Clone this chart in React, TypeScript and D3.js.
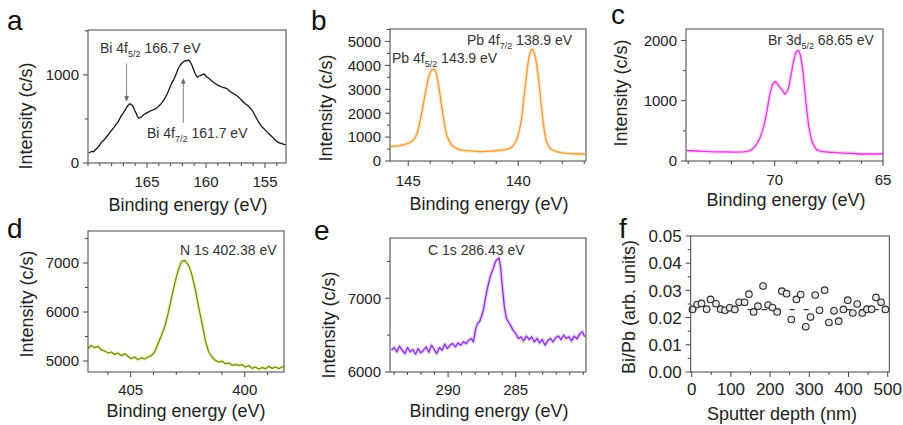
import * as d3 from "d3";

const FONT = "'Liberation Sans', Arial, Helvetica, sans-serif";

// ---- spectra, [binding energy (eV), intensity (c/s)] ----
const biSpectrum: [number, number][] = [
  [169.94, 113], [169.79, 125], [169.66, 132], [169.52, 128], [169.37, 151], [169.22, 170], [169.08, 189],
  [168.94, 220], [168.79, 245], [168.64, 262], [168.51, 283], [168.3, 318], [168.08, 359], [167.87, 392],
  [167.64, 434], [167.44, 470], [167.22, 528], [167.01, 566], [166.84, 604], [166.73, 632], [166.64, 649],
  [166.53, 668], [166.41, 672], [166.32, 660], [166.21, 649], [166.07, 605], [165.92, 566], [165.81, 530],
  [165.69, 509], [165.58, 515], [165.5, 521], [165.29, 548], [165.06, 566], [164.85, 580], [164.63, 596],
  [164.43, 605], [164.2, 623], [163.97, 650], [163.77, 679], [163.62, 705], [163.48, 736], [163.34, 770],
  [163.2, 811], [163.05, 860], [162.91, 906], [162.76, 940], [162.62, 981], [162.47, 1030], [162.34, 1076],
  [162.19, 1110], [162.05, 1132], [161.9, 1150], [161.76, 1162], [161.61, 1160], [161.47, 1170], [161.36, 1150],
  [161.27, 1132], [161.15, 1095], [161.04, 1057], [160.9, 1010], [160.75, 974], [160.63, 985], [160.52, 989],
  [160.35, 1000], [160.17, 1011], [160.03, 990], [159.89, 974], [159.66, 950], [159.46, 925], [159.26, 905],
  [159.03, 887], [158.8, 870], [158.6, 860], [158.39, 852], [158.16, 838], [157.96, 812], [157.74, 793],
  [157.53, 778], [157.3, 755], [157.07, 725], [156.88, 698], [156.67, 672], [156.44, 649], [156.21, 618],
  [156.02, 585], [155.87, 545], [155.73, 509], [155.52, 460], [155.29, 415], [155.06, 385], [154.87, 359],
  [154.66, 330], [154.43, 302], [154.2, 270], [154.0, 245], [153.8, 228], [153.57, 219], [153.4, 212],
  [153.24, 208],
];

const pbSpectrum: [number, number][] = [
  [145.83, 600], [145.6, 620], [145.38, 643], [145.2, 680], [145.08, 712], [144.95, 760], [144.85, 810],
  [144.7, 950], [144.6, 1150], [144.55, 1299], [144.47, 1620], [144.39, 1998], [144.31, 2400], [144.24, 2766],
  [144.16, 3120], [144.09, 3465], [144.0, 3700], [143.94, 3814], [143.83, 3842], [143.77, 3780],
  [143.71, 3604], [143.65, 3320], [143.59, 2976], [143.53, 2620], [143.48, 2277], [143.42, 1920],
  [143.36, 1579], [143.3, 1280], [143.23, 1020], [143.13, 820], [143.03, 671], [142.88, 560], [142.73, 489],
  [142.55, 455], [142.35, 433], [142.05, 410], [141.74, 391], [141.45, 405], [141.14, 419], [140.9, 440],
  [140.68, 461], [140.5, 495], [140.38, 531], [140.25, 620], [140.15, 740], [140.07, 900], [140.0, 1090],
  [139.94, 1320], [139.88, 1579], [139.82, 1980], [139.77, 2417], [139.71, 2900], [139.65, 3395],
  [139.59, 3850], [139.53, 4233], [139.47, 4500], [139.41, 4652], [139.36, 4680], [139.32, 4624],
  [139.26, 4480], [139.21, 4303], [139.15, 3950], [139.09, 3534], [139.03, 3050], [138.98, 2557],
  [138.92, 2050], [138.86, 1579], [138.8, 1180], [138.74, 880], [138.65, 680], [138.56, 531], [138.4, 440],
  [138.26, 391], [138.05, 350], [137.8, 321], [137.55, 305], [137.35, 293], [137.15, 295], [136.97, 293],
];

const brSpectrum: [number, number][] = [
  [74.08, 172], [73.85, 170], [73.62, 166], [73.3, 160], [73.0, 155], [72.6, 152], [72.23, 150],
  [71.85, 148], [71.46, 150], [71.3, 158], [71.15, 172], [71.03, 200], [70.92, 238], [70.8, 300],
  [70.69, 377], [70.6, 470], [70.51, 571], [70.43, 700], [70.35, 848], [70.29, 975], [70.23, 1097],
  [70.17, 1190], [70.11, 1263], [70.04, 1300], [69.98, 1319], [69.91, 1300], [69.85, 1263], [69.77, 1228],
  [69.69, 1191], [69.61, 1150], [69.54, 1108], [69.46, 1140], [69.38, 1191], [69.32, 1290], [69.26, 1402],
  [69.2, 1520], [69.15, 1623], [69.09, 1720], [69.03, 1801], [68.97, 1825], [68.92, 1834], [68.87, 1810],
  [68.82, 1762], [68.75, 1620], [68.69, 1457], [68.63, 1240], [68.57, 1014], [68.5, 780], [68.43, 571],
  [68.35, 430], [68.28, 321], [68.18, 245], [68.08, 194], [67.9, 165], [67.77, 155], [67.45, 145],
  [67.15, 139], [66.85, 132], [66.54, 127], [66.2, 120], [65.92, 116], [65.6, 118], [65.31, 116],
  [65.0, 122],
];

const nSpectrum: [number, number][] = [
  [406.87, 5252], [406.73, 5320], [406.58, 5272], [406.43, 5299], [406.29, 5231], [406.14, 5204],
  [405.99, 5163], [405.85, 5184], [405.7, 5136], [405.56, 5163], [405.41, 5109], [405.26, 5150],
  [405.12, 5095], [404.97, 5048], [404.82, 5082], [404.68, 5027], [404.53, 5068], [404.39, 5041],
  [404.24, 5082], [404.09, 5109], [403.95, 5184], [403.8, 5354], [403.65, 5524], [403.51, 5694],
  [403.36, 5966], [403.22, 6272], [403.07, 6578], [402.92, 6850], [402.78, 7020], [402.66, 7054],
  [402.56, 7020], [402.44, 6932], [402.31, 6748], [402.16, 6442], [402.02, 6102], [401.87, 5762],
  [401.73, 5422], [401.58, 5184], [401.43, 5082], [401.29, 5014], [401.14, 4980], [400.99, 5000],
  [400.85, 4946], [400.7, 4959], [400.56, 4912], [400.41, 4932], [400.26, 4905], [400.12, 4925],
  [399.97, 4878], [399.82, 4905], [399.68, 4850], [399.53, 4878], [399.39, 4837], [399.24, 4864],
  [399.09, 4844], [398.95, 4891], [398.8, 4850], [398.65, 4878], [398.51, 4844], [398.36, 4878],
  [398.27, 4891],
];

const cSpectrum: [number, number][] = [
  [294.19, 6296], [293.99, 6332], [293.79, 6273], [293.6, 6350], [293.4, 6296], [293.2, 6250],
  [293.0, 6332], [292.81, 6273], [292.61, 6305], [292.41, 6241], [292.22, 6318], [292.02, 6259],
  [291.82, 6296], [291.63, 6341], [291.43, 6268], [291.23, 6364], [291.03, 6305], [290.84, 6250],
  [290.64, 6332], [290.44, 6296], [290.25, 6377], [290.05, 6318], [289.85, 6364], [289.66, 6386],
  [289.46, 6341], [289.26, 6395], [289.06, 6364], [288.87, 6409], [288.67, 6386], [288.47, 6432],
  [288.28, 6455], [288.13, 6409], [287.98, 6568], [287.83, 6659], [287.68, 6682], [287.54, 6750],
  [287.39, 6841], [287.24, 7000], [287.09, 7136], [286.95, 7250], [286.8, 7341], [286.65, 7409],
  [286.5, 7500], [286.35, 7532], [286.23, 7545], [286.11, 7409], [285.99, 7159], [285.84, 6886],
  [285.69, 6727], [285.54, 6682], [285.39, 6636], [285.2, 6568], [285.0, 6523], [284.8, 6455],
  [284.61, 6477], [284.41, 6423], [284.21, 6486], [284.01, 6441], [283.82, 6477], [283.62, 6409],
  [283.42, 6455], [283.23, 6395], [283.03, 6441], [282.83, 6364], [282.64, 6423], [282.44, 6455],
  [282.24, 6409], [282.04, 6468], [281.85, 6486], [281.65, 6441], [281.45, 6500], [281.26, 6455],
  [281.06, 6477], [280.86, 6423], [280.67, 6486], [280.47, 6450], [280.27, 6514], [280.07, 6545],
  [279.9, 6477],
];

// ---- depth profile ----
const sputterDepth = [
  2, 14, 25, 38, 48, 62, 74, 85, 97, 110, 121, 135, 146, 158, 169, 182, 195, 206, 218, 230, 242,
  254, 267, 278, 291, 303, 315, 326, 339, 350, 363, 375, 387, 398, 411, 422, 435, 447, 459, 470, 483, 494,
];
const biPbRatio = [
  0.023, 0.0248, 0.0252, 0.0231, 0.0267, 0.0251, 0.0231, 0.0227, 0.0236, 0.023, 0.0256, 0.0256, 0.0286,
  0.0221, 0.0242, 0.0316, 0.0246, 0.0237, 0.0221, 0.0297, 0.0288, 0.0193, 0.0267, 0.0285, 0.0166, 0.0202,
  0.0283, 0.0227, 0.0301, 0.0182, 0.0225, 0.0187, 0.023, 0.0264, 0.0217, 0.025, 0.0217, 0.0231, 0.0231,
  0.0274, 0.0256, 0.023,
];
const biPbMean = 0.0229;

// ---- ticks ----
const aXTicks = [165, 160, 155];
const aYTicks = [0, 1000];
const bXTicks = [145, 140];
const bYTicks = [0, 1000, 2000, 3000, 4000, 5000];
const cXTicks = [70, 65];
const cYTicks = [0, 1000, 2000];
const dXTicks = [405, 400];
const dYTicks = [5000, 6000, 7000];
const eXTicks = [290, 285];
const eYTicks = [6000, 7000];
const fXTicks = [0, 100, 200, 300, 400, 500];
const fYTicks = [0, 0.01, 0.02, 0.03, 0.04, 0.05];

type Note = { x: number; y: number; main: string; sub?: string; tail?: string };
type Arrow = { x: number; y0: number; y1: number };

type PanelProps = {
  letter: string;
  letterPos: [number, number];
  box: [number, number, number, number]; // left, top, right, bottom
  xDomain: [number, number];
  yDomain: [number, number];
  xTicks: number[];
  yTicks: number[];
  xMinorStep: number;
  yMinorStep: number;
  yFormat?: (v: number) => string;
  tickFont: number;
  yLabel: string;
  yLabelPos: [number, number];
  xLabel: string;
  xLabelPos: [number, number];
  xTickBaseline: number;
  data?: [number, number][];
  color?: string;
  glow?: string;
  notes?: Note[];
  arrows?: Arrow[];
  children?: (x: d3.ScaleLinear<number, number>, y: d3.ScaleLinear<number, number>) => any;
};

function Panel(p: PanelProps) {
  const [l, t, r, b] = p.box;
  const x = d3.scaleLinear().domain(p.xDomain).range([l, r]);
  const y = d3.scaleLinear().domain(p.yDomain).range([b, t]);
  const line = d3.line<[number, number]>().x((d) => x(d[0])).y((d) => y(d[1]));

  const xlo = Math.min(...p.xDomain), xhi = Math.max(...p.xDomain);
  const ylo = Math.min(...p.yDomain), yhi = Math.max(...p.yDomain);
  const xMinor = d3.range(Math.ceil(xlo / p.xMinorStep) * p.xMinorStep, xhi + 1e-9, p.xMinorStep)
    .filter((v) => !p.xTicks.some((m) => Math.abs(m - v) < 1e-9));
  const yMinor = d3.range(Math.ceil(ylo / p.yMinorStep) * p.yMinorStep, yhi + 1e-9, p.yMinorStep)
    .filter((v) => !p.yTicks.some((m) => Math.abs(m - v) < 1e-9));
  const fmt = p.yFormat ?? ((v: number) => String(v));
  const axisColor = "#444";

  return (
    <g fontFamily={FONT}>
      <text x={p.letterPos[0]} y={p.letterPos[1]} fontSize={28} fill="#111">{p.letter}</text>

      {p.data && p.glow && (
        <path d={line(p.data) ?? ""} fill="none" stroke={p.glow} strokeWidth={4} strokeOpacity={0.45} strokeLinejoin="round" />
      )}
      {p.data && (
        <path d={line(p.data) ?? ""} fill="none" stroke={p.color} strokeWidth={1.3} strokeLinejoin="round" />
      )}
      {p.children && p.children(x, y)}

      <rect x={l} y={t} width={r - l} height={b - t} fill="none" stroke={axisColor} strokeWidth={1} />

      {p.xTicks.map((v) => (
        <g key={"xt" + v}>
          <line x1={x(v)} x2={x(v)} y1={b} y2={b + 5} stroke={axisColor} />
          <text x={x(v)} y={p.xTickBaseline} fontSize={p.tickFont} textAnchor="middle" fill="#222">{v}</text>
        </g>
      ))}
      {xMinor.map((v) => (
        <line key={"xm" + v} x1={x(v)} x2={x(v)} y1={b} y2={b + 3} stroke={axisColor} />
      ))}
      {p.yTicks.map((v) => (
        <g key={"yt" + v}>
          <line x1={l - 5} x2={l} y1={y(v)} y2={y(v)} stroke={axisColor} />
          <text x={l - 9} y={y(v)} dy="0.36em" fontSize={p.tickFont} textAnchor="end" fill="#222">{fmt(v)}</text>
        </g>
      ))}
      {yMinor.map((v) => (
        <line key={"ym" + v} x1={l - 3} x2={l} y1={y(v)} y2={y(v)} stroke={axisColor} />
      ))}

      <text x={p.xLabelPos[0]} y={p.xLabelPos[1]} fontSize={18} textAnchor="middle" fill="#222">{p.xLabel}</text>
      <text
        transform={`translate(${p.yLabelPos[0]},${p.yLabelPos[1]}) rotate(-90)`}
        fontSize={18}
        textAnchor="middle"
        dy="0.35em"
        fill="#222"
      >
        {p.yLabel}
      </text>

      {(p.notes ?? []).map((n, i) => (
        <text key={"n" + i} x={n.x} y={n.y} fontSize={14} fill="#333">
          {n.main}
          {n.sub && <tspan fontSize={9} dy={4}>{n.sub}</tspan>}
          {n.tail && <tspan dy={n.sub ? -4 : 0}>{n.tail}</tspan>}
        </text>
      ))}
      {(p.arrows ?? []).map((a, i) => {
        const xa = x(a.x), ya0 = y(a.y0), ya1 = y(a.y1);
        const dir = ya1 > ya0 ? 1 : -1;
        return (
          <g key={"a" + i} stroke="#666" fill="#666">
            <line x1={xa} x2={xa} y1={ya0} y2={ya1 - dir * 3} strokeWidth={0.8} />
            <path d={`M${xa},${ya1} L${xa - 2},${ya1 - dir * 5} L${xa + 2},${ya1 - dir * 5} Z`} strokeWidth={0.5} />
          </g>
        );
      })}
    </g>
  );
}

export default function App() {
  return (
    <svg width={903} height={425} style={{ display: "block", position: "absolute", left: 0, top: 0, background: "#fff" }}>
      <Panel
        letter="a" letterPos={[7, 30]}
        box={[88, 30, 286, 163]} xDomain={[170.0, 153.22]} yDomain={[0, 1510]}
        xTicks={aXTicks} yTicks={aYTicks} xMinorStep={1} yMinorStep={500} tickFont={15}
        yLabel="Intensity (c/s)" yLabelPos={[26, 116]}
        xLabel="Binding energy (eV)" xLabelPos={[188, 211]} xTickBaseline={187}
        data={biSpectrum} color="#151515"
        notes={[
          { x: 100, y: 53, main: "Bi 4f", sub: "5/2", tail: " 166.7 eV" },
          { x: 147, y: 138, main: "Bi 4f", sub: "7/2", tail: " 161.7 eV" },
        ]}
        arrows={[
          { x: 166.73, y0: 1130, y1: 700 },
          { x: 161.92, y0: 455, y1: 960 },
        ]}
      />
      <Panel
        letter="b" letterPos={[311, 30]}
        box={[390, 29, 586, 161]} xDomain={[145.83, 136.92]} yDomain={[0, 5520]}
        xTicks={bXTicks} yTicks={bYTicks} xMinorStep={1} yMinorStep={500} tickFont={15}
        yLabel="Intensity (c/s)" yLabelPos={[326, 108]}
        xLabel="Binding energy (eV)" xLabelPos={[489, 210]} xTickBaseline={186}
        data={pbSpectrum} color="#f09a35" glow="#fbd39a"
        notes={[
          { x: 392, y: 63, main: "Pb 4f", sub: "5/2", tail: " 143.9 eV" },
          { x: 467, y: 45, main: "Pb 4f", sub: "7/2", tail: " 138.9 eV" },
        ]}
      />
      <Panel
        letter="c" letterPos={[611, 24]}
        box={[686, 29, 883, 161]} xDomain={[74.1, 65]} yDomain={[0, 2190]}
        xTicks={cXTicks} yTicks={cYTicks} xMinorStep={1} yMinorStep={500} tickFont={15}
        yLabel="Intensity (c/s)" yLabelPos={[621, 93]}
        xLabel="Binding energy (eV)" xLabelPos={[786, 206]} xTickBaseline={185}
        data={brSpectrum} color="#e03ad8" glow="#f5a8f0"
        notes={[{ x: 768, y: 45, main: "Br 3d", sub: "5/2", tail: " 68.65 eV" }]}
      />
      <Panel
        letter="d" letterPos={[7, 238]}
        box={[88, 231, 284, 372]} xDomain={[406.87, 398.28]} yDomain={[4776, 7653]}
        xTicks={dXTicks} yTicks={dYTicks} xMinorStep={1} yMinorStep={500} tickFont={15}
        yLabel="Intensity (c/s)" yLabelPos={[27, 304]}
        xLabel="Binding energy (eV)" xLabelPos={[186, 417]} xTickBaseline={395}
        data={nSpectrum} color="#6c8a1e" glow="#e6ef70"
        notes={[{ x: 180, y: 255, main: "N 1s 402.38 eV" }]}
      />
      <Panel
        letter="e" letterPos={[314, 240]}
        box={[390, 238, 586, 372]} xDomain={[294.3, 279.8]} yDomain={[6000, 7818]}
        xTicks={eXTicks} yTicks={eYTicks} xMinorStep={1} yMinorStep={500} tickFont={15}
        yLabel="Intensity (c/s)" yLabelPos={[329, 325]}
        xLabel="Binding energy (eV)" xLabelPos={[489, 417]} xTickBaseline={395}
        data={cSpectrum} color="#8a2fe0" glow="#c9a0f2"
        notes={[{ x: 428, y: 255, main: "C 1s 286.43 eV" }]}
      />
      <Panel
        letter="f" letterPos={[619, 238]}
        box={[690.7, 236, 889.3, 372]} xDomain={[-2.5, 504]} yDomain={[0, 0.05]}
        xTicks={fXTicks} yTicks={fYTicks} xMinorStep={50} yMinorStep={0.005} tickFont={17}
        yFormat={(v) => v.toFixed(2)}
        yLabel="Bi/Pb (arb. units)" yLabelPos={[629, 307]}
        xLabel="Sputter depth (nm)" xLabelPos={[782, 420]} xTickBaseline={395}
      >
        {(x, y) => (
          <g>
            <line
              x1={x(0)} x2={x(500)} y1={y(biPbMean)} y2={y(biPbMean)}
              stroke="#333" strokeWidth={1.2} strokeDasharray="5,9"
            />
            {sputterDepth.map((d, i) => (
              <circle key={i} cx={x(d)} cy={y(biPbRatio[i])} r={3.3} fill="#e6e6e6" stroke="#2a2a2a" strokeWidth={1.1} />
            ))}
          </g>
        )}
      </Panel>
    </svg>
  );
}
